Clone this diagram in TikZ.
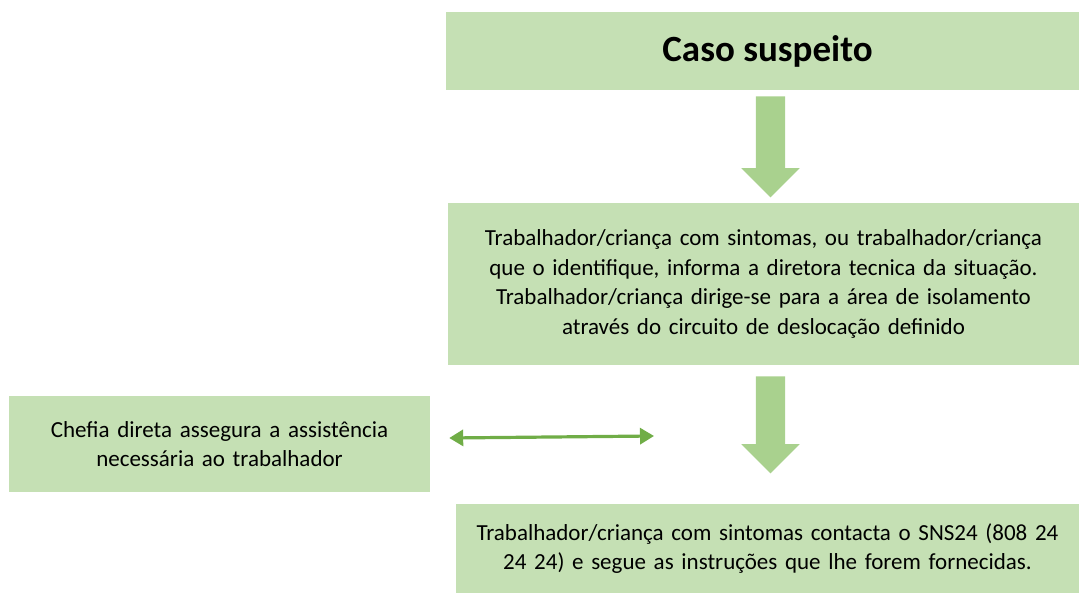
\documentclass[tikz,border=0pt]{standalone}
\usepackage{fontspec}
\setmainfont{Carlito}
\usetikzlibrary{shapes.arrows,arrows.meta}
\definecolor{caixaverde}{HTML}{C5E0B4}
\definecolor{setaverde}{HTML}{A9D18E}
\definecolor{linhaverde}{HTML}{70AD47}
\tikzset{
  caixa/.style = {fill = caixaverde, draw = none, inner sep = 0pt, align = center,
    font = \fontsize{23}{29.5}\selectfont},
  setabloco/.style = {single arrow, shape border rotate = 270, fill = setaverde,
    draw = none, inner sep = 14.5pt, minimum height = 101pt, minimum width = 58pt,
    single arrow head extend = 14.5pt, single arrow tip angle = 90, anchor = tail},
  duplaseta/.style = {linhaverde, line width = 3.2pt,
    {Triangle[width = 16pt, length = 14pt]}-{Triangle[width = 16pt, length = 14pt]}}
}
\begin{document}
\begin{tikzpicture}[x = 1pt, y = -1pt]
\useasboundingbox (0,0) rectangle (1079,593);
% caixas
\node[caixa, minimum width = 633pt, minimum height = 78pt, font = \fontsize{37}{40}\selectfont\bfseries] (caso) at (762.5,51) {\hspace*{10pt}Caso suspeito};
\node[caixa, minimum width = 631pt, minimum height = 162pt, text width = 625pt] (sintomas) at (763.5,284) {Trabalhador/criança com sintomas, ou trabalhador/criança\\ que o identifique, informa a diretora tecnica da situação.\\ Trabalhador/criança dirige-se para a área de isolamento\\ através do circuito de deslocação definido};
\node[caixa, minimum width = 421pt, minimum height = 96pt, text width = 415pt] (chefia) at (219.5,444) {Chefia direta assegura a assistência\\ necessária ao trabalhador};
\node[caixa, minimum width = 623pt, minimum height = 89pt, text width = 620pt] (sns) at (767.5,548.5) {Trabalhador/criança com sintomas contacta o SNS24 (808 24\\ 24 24) e segue as instruções que lhe forem fornecidas.};
% setas
\node[setabloco] (seta1) at ([xshift = 8pt, yshift = -6pt]caso.south) {};
\node[setabloco, minimum height = 97pt] (seta2) at ([xshift = 7pt, yshift = -11pt]sintomas.south) {};
\coordinate (fim) at (654,436);
\draw[duplaseta] ([xshift = 19pt, yshift = 6pt]chefia.east) -- (fim);
\end{tikzpicture}
\end{document}
